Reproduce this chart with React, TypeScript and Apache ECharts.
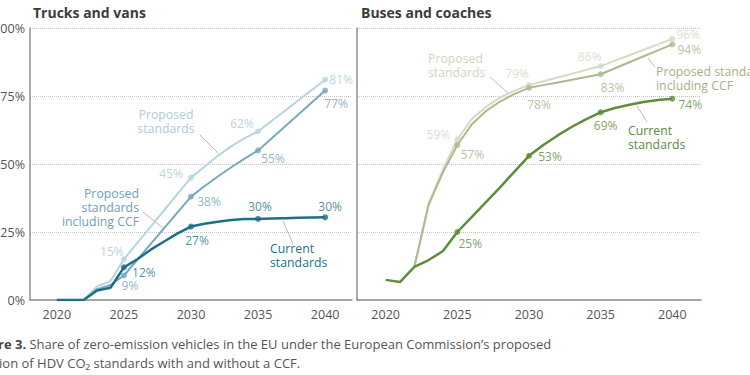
import React, { useEffect, useRef } from "react";
import * as echarts from "echarts";

const years = [2020, 2021, 2022, 2023, 2024, 2025, 2026, 2027, 2028, 2029, 2030, 2031, 2032, 2033, 2034, 2035, 2036, 2037, 2038, 2039, 2040];
const milestoneYears = [2025, 2030, 2035, 2040];

const trucksCurrent = [0, 0, 0, 3.5, 4.5, 12, 15, 18.5, 21.5, 24.5, 27, 28, 28.8, 29.4, 29.8, 29.8, 30, 30.1, 30.2, 30.3, 30.4];
const trucksCCF = [0, 0, 0, 4, 5.5, 9, 14.8, 20.6, 26.4, 32.2, 38, 41.8, 45.4, 48.8, 52, 55, 59.4, 63.8, 68.2, 72.6, 77];
const trucksProposed = [0, 0, 0, 5, 7, 15, 21, 27, 33, 39, 45, 49, 53, 56.5, 59.5, 62, 65.8, 69.6, 73.4, 77.2, 81];

const busesCurrent = [7.4, 6.6, 12.2, 14.7, 18, 25, 30.5, 36, 41.5, 47.3, 53, 57, 60.5, 63.7, 66.5, 69, 70.6, 71.8, 72.8, 73.5, 74];
const busesCCF = [null, null, 12.2, 35, 47, 57, 64.5, 69.5, 73, 75.8, 78, 79, 80, 81, 82, 83, 85.2, 87.4, 89.6, 91.8, 94];
const busesProposed = [null, null, 12.2, 35.5, 48, 59, 66.5, 71, 74.5, 77, 79, 80.4, 81.8, 83.2, 84.6, 86, 88, 90, 92, 94, 96];

const yTicks = [0, 25, 50, 75, 100];
const xTickYears = [2020, 2025, 2030, 2035, 2040];

const FONT = "'Open Sans', sans-serif";

const colors = {
  tLight: "#b9d4df",
  tMid: "#78a8bc",
  tDark: "#1c7186",
  bLight: "#d5dbc8",
  bMid: "#aabb8d",
  bDark: "#5e8d3c",
};

// label offsets (dx, dy) from each milestone dot, by series
const labelOffsets: Record<string, number[][]> = {
  trucksProposed: [[-12, -8], [-20, -4], [-16, -8], [16, 0]],
  trucksCCF: [[6, 10], [18, 5], [15, 8], [11, 13]],
  trucksCurrent: [[20, 5], [6, 14], [2, -12], [5, -11]],
  busesProposed: [[-19, -5], [-12, -12], [-11, -10], [16, -4]],
  busesCCF: [[15, 10], [10, 17], [12, 13], [17, 5]],
  busesCurrent: [[13, 11], [21, 1], [5, 13], [18, 6]],
};

function lineSeries(name: string, values: (number | null)[], color: string, panel: number, width: number, z: number) {
  return {
    name,
    type: "line",
    xAxisIndex: panel,
    yAxisIndex: panel,
    data: years.map((y, i) => [y, values[i]]),
    symbol: "none",
    lineStyle: { color, width },
    connectNulls: false,
    z,
    silent: true,
  };
}

function dotSeries(key: string, values: (number | null)[], color: string, labelColor: string, panel: number, z: number) {
  const offs = labelOffsets[key];
  return {
    name: key + "-dots",
    type: "scatter",
    xAxisIndex: panel,
    yAxisIndex: panel,
    symbolSize: 6,
    itemStyle: { color },
    z,
    data: milestoneYears.map((y, k) => ({
      value: [y, values[years.indexOf(y)]],
      label: { offset: offs[k] },
    })),
    label: {
      show: true,
      position: "inside",
      color: labelColor,
      fontSize: 12,
      fontFamily: FONT,
      formatter: (p: any) => Math.round(p.value[1]) + "%",
    },
  };
}

function xAxis(gridIndex: number) {
  return {
    type: "value",
    gridIndex,
    min: 2018,
    max: 2042,
    interval: 1,
    axisLine: { show: true, lineStyle: { color: "#8f8f8f", width: 1.5 } },
    axisTick: { show: false },
    splitLine: { show: false },
    axisLabel: {
      margin: 8,
      color: "#555",
      fontSize: 12.5,
      fontFamily: FONT,
      formatter: (v: number) => (xTickYears.includes(v) ? String(v) : ""),
    },
  };
}

function yAxis(gridIndex: number, showLabels: boolean) {
  return {
    type: "value",
    gridIndex,
    min: yTicks[0],
    max: yTicks[yTicks.length - 1],
    interval: 25,
    axisLine: { show: true, lineStyle: { color: "#8f8f8f", width: 1.5 } },
    axisTick: { show: false },
    splitLine: { show: true, lineStyle: { type: "dotted", color: "#c4c4c4", width: 1 } },
    axisLabel: {
      show: showLabels,
      margin: 5,
      color: "#555",
      fontSize: 12.5,
      fontFamily: FONT,
      formatter: "{value}%",
    },
  };
}

function annotation(text: string, x: number, y: number, align: string, fill: string) {
  return {
    type: "text",
    x,
    y,
    z: 100,
    style: {
      text,
      fill,
      align,
      verticalAlign: "middle",
      fontSize: 12.3,
      fontFamily: FONT,
      lineHeight: 14,
    },
  };
}

function leader(x1: number, y1: number, x2: number, y2: number) {
  return {
    type: "line",
    z: 100,
    shape: { x1, y1, x2, y2 },
    style: { stroke: "#bdbdbd", lineWidth: 1 },
  };
}

const option = {
  animation: false,
  backgroundColor: "#ffffff",
  textStyle: { fontFamily: FONT },
  grid: [
    { left: 30, top: 28, width: 322, bottom: 75, outerBoundsMode: "none", containLabel: false },
    { left: 357, top: 28, width: 344, bottom: 75, outerBoundsMode: "none", containLabel: false },
  ],
  xAxis: [xAxis(0), xAxis(1)],
  yAxis: [yAxis(0, true), yAxis(1, false)],
  series: [
    lineSeries("Proposed standards", trucksProposed, colors.tLight, 0, 2, 2),
    lineSeries("Proposed standards including CCF", trucksCCF, colors.tMid, 0, 2, 3),
    lineSeries("Current standards", trucksCurrent, colors.tDark, 0, 2.5, 4),
    dotSeries("trucksProposed", trucksProposed, colors.tLight, "#aac8d5", 0, 5),
    dotSeries("trucksCCF", trucksCCF, colors.tMid, "#6fa1b6", 0, 6),
    dotSeries("trucksCurrent", trucksCurrent, colors.tDark, "#1f7086", 0, 7),
    lineSeries("Proposed standards", busesProposed, colors.bLight, 1, 2, 2),
    lineSeries("Proposed standards including CCF", busesCCF, colors.bMid, 1, 2, 3),
    lineSeries("Current standards", busesCurrent, colors.bDark, 1, 2.5, 4),
    dotSeries("busesProposed", busesProposed, colors.bLight, "#cfd6c0", 1, 5),
    dotSeries("busesCCF", busesCCF, colors.bMid, "#a3b386", 1, 6),
    dotSeries("busesCurrent", busesCurrent, colors.bDark, "#5e8a3e", 1, 7),
  ],
  graphic: [
    {
      type: "text", x: 33, y: 12, z: 100,
      style: { text: "Trucks and vans", fill: "#3c3c3c", fontSize: 14, fontWeight: "bold", fontFamily: FONT, verticalAlign: "middle", align: "left" },
    },
    {
      type: "text", x: 361, y: 12, z: 100,
      style: { text: "Buses and coaches", fill: "#3c3c3c", fontSize: 14, fontWeight: "bold", fontFamily: FONT, verticalAlign: "middle", align: "left" },
    },
    annotation("Proposed\nstandards", 166, 121.5, "center", "#b0ccd8"),
    annotation("Proposed\nstandards\nincluding CCF", 139, 207, "right", "#6fa1b6"),
    annotation("Current\nstandards", 270, 255, "left", "#1f7086"),
    leader(200, 135, 218, 153),
    leader(143, 212, 163, 228),
    leader(283, 221, 293, 244),
    annotation("Proposed\nstandards", 428, 65, "left", "#cfd6c0"),
    annotation("Proposed standards\nincluding CCF", 656, 78, "left", "#a3b386"),
    annotation("Current\nstandards", 628, 137, "left", "#5e8a3e"),
    leader(490, 77, 508, 93),
    leader(648, 58, 655, 67),
    leader(637, 106, 647, 122),
    {
      type: "text", x: -29, y: 344, z: 100,
      style: {
        text: "{b|Figure 3.} Share of zero-emission vehicles in the EU under the European Commission\u2019s proposed",
        fill: "#555",
        fontSize: 13,
        fontFamily: FONT,
        verticalAlign: "middle",
        align: "left",
        rich: { b: { fontWeight: "bold", fill: "#444", fontSize: 13, fontFamily: FONT } },
      },
    },
    {
      type: "text", x: -29.5, y: 363, z: 100,
      style: {
        text: "revision of HDV CO\u2082 standards with and without a CCF.",
        fill: "#555",
        fontSize: 13,
        fontFamily: FONT,
        verticalAlign: "middle",
        align: "left",
      },
    },
  ],
};

export default function App() {
  const ref = useRef<HTMLDivElement>(null);
  useEffect(() => {
    const chart = echarts.init(ref.current as HTMLDivElement, undefined, { renderer: "svg" });
    chart.setOption(option as any);
    return () => chart.dispose();
  }, []);
  return (
    <div
      ref={ref}
      style={{ position: "fixed", left: 0, top: 0, width: 750, height: 375, background: "#fff" }}
    />
  );
}
